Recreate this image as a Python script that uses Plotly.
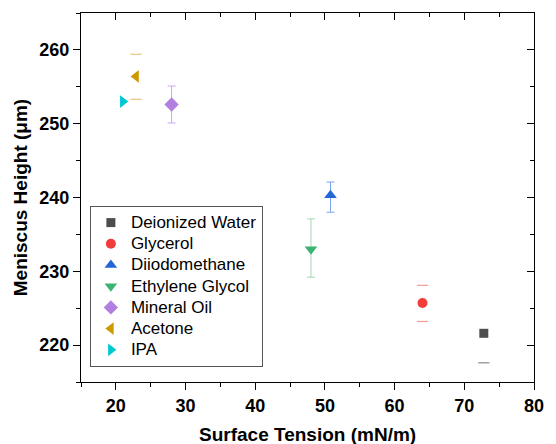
import plotly.graph_objects as go

# ---- data ----
names = ["Deionized Water", "Glycerol", "Diiodomethane", "Ethylene Glycol",
         "Mineral Oil", "Acetone", "IPA"]
surface_tension = [72.8, 64.0, 50.8, 48.0, 28.0, 22.9, 21.0]
meniscus_height = [221.6, 225.7, 240.3, 233.0, 252.6, 256.4, 253.0]
err_plus = [0.0, 2.4, 1.8, 4.1, 2.5, 3.0, 0.0]
err_minus = [4.0, 2.5, 2.3, 3.8, 2.5, 3.1, 0.0]
whisker_visible = [False, False, True, True, True, False, False]

symbols = ["square", "circle", "triangle-up", "triangle-down", "diamond",
           "triangle-left", "triangle-right"]
sizes = [9, 10, 11, 11, 11, 11, 11]
colors = ["#4d4d4d", "#f23c3c", "#2266d8", "#3cb371", "#b27ee0", "#cc9a00", "#00c8d2"]
err_colors = ["#8a8a8a", "#f29a9a", "#7aa4ec", "#9fd8b4", "#c9a6ee", "#e6c880", "#8ee6ea"]

x_ticks = [20, 30, 40, 50, 60, 70, 80]
y_ticks = [220, 230, 240, 250, 260]
x_range = [15, 80]
y_range = [215, 265]

FONT = "Arial, 'Liberation Sans', sans-serif"

fig = go.Figure()

for i, n in enumerate(names):
    ey = None
    if whisker_visible[i]:
        ey = dict(type="data", symmetric=False, array=[err_plus[i]],
                  arrayminus=[err_minus[i]], color=err_colors[i],
                  thickness=1, width=4)
    fig.add_trace(go.Scatter(
        x=[surface_tension[i]], y=[meniscus_height[i]],
        name='<span style="font-size:17px">' + n + '</span>',
        mode="markers",
        marker=dict(symbol=symbols[i], size=sizes[i], color=colors[i], line=dict(width=0)),
        error_y=ey, showlegend=True))

# caps only (error bar ends) for series whose whiskers are not drawn
for i, n in enumerate(names):
    if whisker_visible[i]:
        continue
    cy = []
    if err_plus[i] > 0:
        cy.append(meniscus_height[i] + err_plus[i])
    if err_minus[i] > 0:
        cy.append(meniscus_height[i] - err_minus[i])
    if not cy:
        continue
    fig.add_trace(go.Scatter(
        x=[surface_tension[i]] * len(cy), y=cy, mode="markers",
        marker=dict(symbol="line-ew", size=8, color=err_colors[i],
                    line=dict(width=1.2, color=err_colors[i])),
        showlegend=False, hoverinfo="skip"))

# dummy trace for mirrored (top/right) axes
fig.add_trace(go.Scatter(x=[x_range[0]], y=[y_range[0]], xaxis="x2", yaxis="y2",
                         mode="markers", marker=dict(opacity=0), showlegend=False,
                         hoverinfo="skip"))

tickfont = dict(family=FONT, size=18, color="black", weight="bold")

def minor(side):
    return dict(ticks=side, ticklen=4, dtick=5, tick0=0, tickcolor="black", tickwidth=1.2)

fig.update_layout(
    width=556, height=444,
    margin=dict(l=81, r=16, t=13, b=62),
    paper_bgcolor="white", plot_bgcolor="white",
    font=dict(family=FONT, color="black"),
    xaxis=dict(range=x_range, tickvals=x_ticks, ticks="outside", ticklen=7, tickwidth=1.3,
               tickcolor="black", showline=True, linecolor="black", linewidth=1.2,
               showgrid=False, zeroline=False, tickfont=tickfont, minor=minor("outside")),
    yaxis=dict(range=y_range, tickvals=y_ticks, ticks="outside", ticklen=7, tickwidth=1.3,
               tickcolor="black", showline=True, linecolor="black", linewidth=1.2,
               showgrid=False, zeroline=False, tickfont=tickfont, minor=minor("outside")),
    xaxis2=dict(range=x_range, overlaying="x", side="top", tickvals=x_ticks, ticks="inside",
                ticklen=7, tickwidth=1.3, tickcolor="black", showticklabels=False,
                showline=True, linecolor="black", linewidth=1.2, showgrid=False,
                zeroline=False, minor=minor("inside")),
    yaxis2=dict(range=y_range, overlaying="y", side="right", tickvals=y_ticks, ticks="inside",
                ticklen=7, tickwidth=1.3, tickcolor="black", showticklabels=False,
                showline=True, linecolor="black", linewidth=1.2, showgrid=False,
                zeroline=False, minor=minor("inside")),
    legend=dict(x=0.0196, y=0.477, xanchor="left", yanchor="top",
                bordercolor="#555555", borderwidth=1, bgcolor="white",
                font=dict(family=FONT, size=14, color="black"),
                tracegroupgap=0, itemsizing="trace"),
    annotations=[
        dict(text="<b>Surface Tension (mN/m)</b>", xref="paper", yref="paper",
             x=0.5, y=-0.1436, xanchor="center", yanchor="middle", showarrow=False,
             font=dict(family=FONT, size=19, color="black")),
        dict(text="<b>Meniscus Height (μm)</b>", xref="paper", yref="paper",
             x=-0.133, y=0.5, xanchor="center", yanchor="middle", showarrow=False,
             textangle=-90, font=dict(family=FONT, size=19, color="black")),
    ],
)

fig.write_html("out.html")
